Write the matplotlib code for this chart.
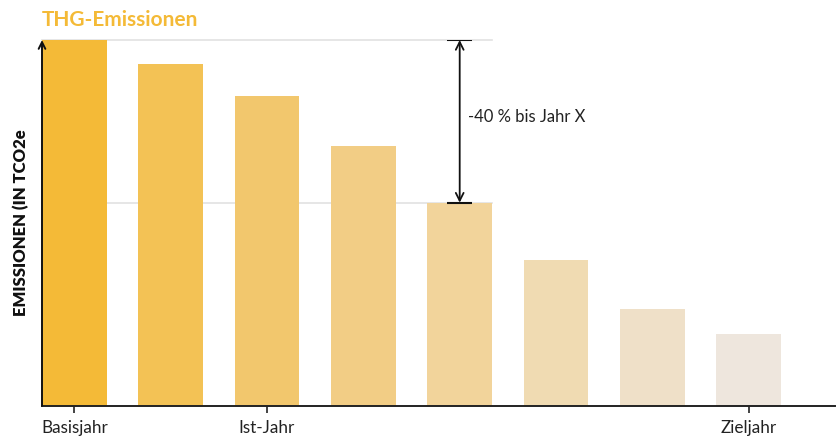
import matplotlib.pyplot as plt

years = ["Basisjahr", "", "Ist-Jahr", "", "", "", "", "Zieljahr"]
emissions = [100, 94.1, 86.2, 73.9, 60, 45.9, 33.9, 27.7]
bar_colors = ["#F4BA37", "#F3C255", "#F2C76D", "#F2CD85", "#F2D49B",
              "#F0DBB2", "#EFE0C8", "#EEE6DD"]
tick_idx = [0, 2, 7]
target_idx = 4
reduction_label = "-40 % bis Jahr X"

plt.rcParams['font.family'] = ['Lato', 'DejaVu Sans']

fig = plt.figure(figsize=(8.37, 4.4), dpi=100)
ax = fig.add_axes([42 / 837, 34 / 440, 793 / 837, 366 / 440])

x = list(range(len(emissions)))
ax.bar(x, emissions, width=0.67, color=bar_colors, zorder=2)

ax.set_xlim(-0.335, 7.895)
ax.set_ylim(10, 100)

# reference lines for base year and target level
for level in (emissions[0], emissions[target_idx]):
    ax.plot([-0.335, target_idx + 0.34], [level, level], color="#E2E2E2",
            lw=1.2, zorder=1, clip_on=False)

# dimension arrow with end caps
ax.annotate("", xy=(target_idx, emissions[0]), xytext=(target_idx, emissions[target_idx]),
            arrowprops=dict(arrowstyle="<->", lw=1.3, color="#111111",
                            shrinkA=0, shrinkB=0, mutation_scale=14), zorder=4)
ax.hlines([emissions[0], emissions[target_idx]], target_idx - 0.13, target_idx + 0.13,
          colors="#111111", lw=1.5, zorder=4)
ax.text(target_idx + 0.09, (emissions[0] + emissions[target_idx]) / 2 + 1, reduction_label,
        fontsize=12, color="#222222", va="center", ha="left")

for side in ("top", "right", "left"):
    ax.spines[side].set_visible(False)
ax.spines["bottom"].set_color("#222222")
ax.spines["bottom"].set_linewidth(1.4)
ax.annotate("", xy=(0, 1.0), xytext=(0, 0), xycoords="axes fraction",
            arrowprops=dict(arrowstyle="->", lw=1.4, color="#111111",
                            shrinkA=0, shrinkB=0, mutation_scale=12), zorder=5)

ax.set_yticks([])
ax.set_xticks(tick_idx)
ax.set_xticklabels([years[i] for i in tick_idx], fontsize=12.3, color="#222222")
ax.tick_params(axis="x", length=5, width=1.2, color="#222222", pad=5)

ax.set_ylabel("EMISSIONEN (IN TCO2e", fontsize=12, fontweight="heavy",
              color="#111111", labelpad=9)
fig.text(42 / 837, 1 - 20 / 440, "THG-Emissionen", fontsize=15, fontweight="bold",
         color="#F4BA37", va="center", ha="left")

fig.savefig("out.png", dpi=100)
